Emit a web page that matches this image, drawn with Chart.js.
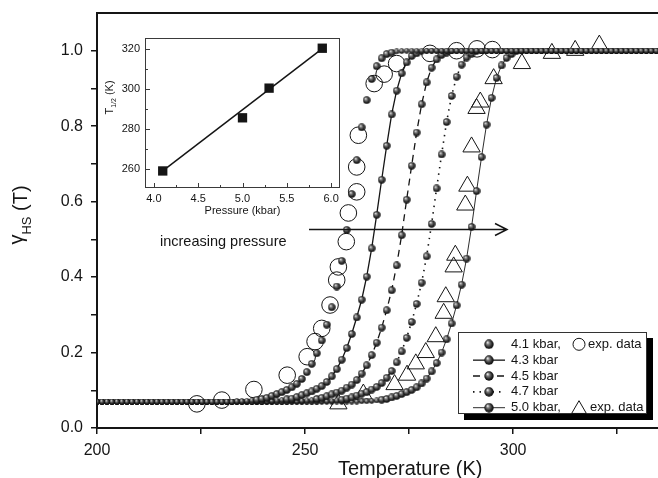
<!DOCTYPE html>
<html>
<head>
<meta charset="utf-8">
<script src="https://cdn.jsdelivr.net/npm/chart.js@4.4.1/dist/chart.umd.min.js"></script>
<style>
  html, body { margin: 0; padding: 0; background: #fff; }
  #wrap { position: relative; width: 658px; height: 478px; overflow: hidden; }
  #main { position: absolute; left: 0; top: 0; }
  #inset { position: absolute; left: 95px; top: 30px; }
</style>
</head>
<body>
<div id="wrap">
  <canvas id="main" width="658" height="478"></canvas>
  <canvas id="inset" width="250" height="190"></canvas>
</div>
<script>
// temperature grid of the simulated curves (K)
var temps = [
  200.0, 201.2, 202.4, 203.6, 204.8, 206.0, 207.2, 208.4, 209.6, 210.8,
  212.0, 213.2, 214.4, 215.6, 216.8, 218.0, 219.2, 220.4, 221.6, 222.8,
  224.0, 225.2, 226.4, 227.6, 228.8, 230.0, 231.2, 232.4, 233.6, 234.8,
  236.0, 237.2, 238.4, 239.6, 240.8, 242.0, 243.2, 244.4, 245.6, 246.8,
  248.0, 249.2, 250.4, 251.6, 252.8, 254.0, 255.2, 256.4, 257.6, 258.8,
  260.0, 261.2, 262.4, 263.6, 264.8, 266.0, 267.2, 268.4, 269.6, 270.8,
  272.0, 273.2, 274.4, 275.6, 276.8, 278.0, 279.2, 280.4, 281.6, 282.8,
  284.0, 285.2, 286.4, 287.6, 288.8, 290.0, 291.2, 292.4, 293.6, 294.8,
  296.0, 297.2, 298.4, 299.6, 300.8, 302.0, 303.2, 304.4, 305.6, 306.8,
  308.0, 309.2, 310.4, 311.6, 312.8, 314.0, 315.2, 316.4, 317.6, 318.8,
  320.0, 321.2, 322.4, 323.6, 324.8, 326.0, 327.2, 328.4, 329.6, 330.8,
  332.0, 333.2, 334.4
];

// gamma_HS of each simulated curve on that grid
var hs41 = [
  0.07, 0.07, 0.07, 0.07, 0.07, 0.07, 0.07, 0.07, 0.07, 0.07,
  0.07, 0.07, 0.07, 0.07, 0.07, 0.07, 0.07, 0.07, 0.07, 0.07,
  0.07, 0.07, 0.07, 0.07, 0.07, 0.07, 0.07, 0.07, 0.071, 0.071,
  0.072, 0.073, 0.075, 0.077, 0.080, 0.085, 0.090, 0.095, 0.101, 0.108,
  0.117, 0.130, 0.148, 0.170, 0.198, 0.232, 0.274, 0.320, 0.375, 0.443,
  0.525, 0.620, 0.710, 0.797, 0.869, 0.925, 0.959, 0.980, 0.991, 0.995,
  0.998, 0.999, 1, 1, 1, 1, 1, 1, 1, 1,
  1, 1, 1, 1, 1, 1, 1, 1, 1, 1,
  1, 1, 1, 1, 1, 1, 1, 1, 1, 1,
  1, 1, 1, 1, 1, 1, 1, 1, 1, 1,
  1, 1, 1, 1, 1, 1, 1, 1, 1, 1,
  1, 1, 1
];
var hs43 = [
  0.07, 0.07, 0.07, 0.07, 0.07, 0.07, 0.07, 0.07, 0.07, 0.07,
  0.07, 0.07, 0.07, 0.07, 0.07, 0.07, 0.07, 0.07, 0.07, 0.07,
  0.07, 0.07, 0.07, 0.07, 0.07, 0.07, 0.07, 0.07, 0.07, 0.07,
  0.07, 0.07, 0.07, 0.07, 0.071, 0.072, 0.073, 0.074, 0.076, 0.078,
  0.082, 0.087, 0.092, 0.097, 0.104, 0.111, 0.122, 0.137, 0.156, 0.181,
  0.212, 0.249, 0.293, 0.340, 0.401, 0.476, 0.565, 0.658, 0.748, 0.831,
  0.894, 0.940, 0.969, 0.986, 0.993, 0.997, 0.999, 1, 1, 1,
  1, 1, 1, 1, 1, 1, 1, 1, 1, 1,
  1, 1, 1, 1, 1, 1, 1, 1, 1, 1,
  1, 1, 1, 1, 1, 1, 1, 1, 1, 1,
  1, 1, 1, 1, 1, 1, 1, 1, 1, 1,
  1, 1, 1
];
var hs45 = [
  0.07, 0.07, 0.07, 0.07, 0.07, 0.07, 0.07, 0.07, 0.07, 0.07,
  0.07, 0.07, 0.07, 0.07, 0.07, 0.07, 0.07, 0.07, 0.07, 0.07,
  0.07, 0.07, 0.07, 0.07, 0.07, 0.07, 0.07, 0.07, 0.07, 0.07,
  0.07, 0.07, 0.07, 0.07, 0.07, 0.07, 0.07, 0.07, 0.07, 0.071,
  0.071, 0.072, 0.073, 0.074, 0.077, 0.080, 0.084, 0.089, 0.094, 0.099,
  0.107, 0.115, 0.127, 0.144, 0.166, 0.193, 0.226, 0.266, 0.312, 0.365,
  0.431, 0.511, 0.605, 0.695, 0.783, 0.858, 0.916, 0.955, 0.977, 0.989,
  0.995, 0.998, 0.999, 1, 1, 1, 1, 1, 1, 1,
  1, 1, 1, 1, 1, 1, 1, 1, 1, 1,
  1, 1, 1, 1, 1, 1, 1, 1, 1, 1,
  1, 1, 1, 1, 1, 1, 1, 1, 1, 1,
  1, 1, 1
];
var hs47 = [
  0.07, 0.07, 0.07, 0.07, 0.07, 0.07, 0.07, 0.07, 0.07, 0.07,
  0.07, 0.07, 0.07, 0.07, 0.07, 0.07, 0.07, 0.07, 0.07, 0.07,
  0.07, 0.07, 0.07, 0.07, 0.07, 0.07, 0.07, 0.07, 0.07, 0.07,
  0.07, 0.07, 0.07, 0.07, 0.07, 0.07, 0.07, 0.07, 0.07, 0.07,
  0.07, 0.07, 0.07, 0.07, 0.07, 0.071, 0.071, 0.072, 0.073, 0.075,
  0.078, 0.081, 0.086, 0.091, 0.095, 0.102, 0.109, 0.119, 0.133, 0.151,
  0.174, 0.203, 0.239, 0.281, 0.329, 0.385, 0.455, 0.541, 0.635, 0.725,
  0.811, 0.880, 0.931, 0.963, 0.982, 0.992, 0.996, 0.998, 0.999, 1,
  1, 1, 1, 1, 1, 1, 1, 1, 1, 1,
  1, 1, 1, 1, 1, 1, 1, 1, 1, 1,
  1, 1, 1, 1, 1, 1, 1, 1, 1, 1,
  1, 1, 1
];
var hs50 = [
  0.07, 0.07, 0.07, 0.07, 0.07, 0.07, 0.07, 0.07, 0.07, 0.07,
  0.07, 0.07, 0.07, 0.07, 0.07, 0.07, 0.07, 0.07, 0.07, 0.07,
  0.07, 0.07, 0.07, 0.07, 0.07, 0.07, 0.07, 0.07, 0.07, 0.07,
  0.07, 0.07, 0.07, 0.07, 0.07, 0.07, 0.07, 0.07, 0.07, 0.07,
  0.07, 0.07, 0.07, 0.07, 0.07, 0.07, 0.07, 0.07, 0.07, 0.07,
  0.07, 0.07, 0.07, 0.071, 0.071, 0.072, 0.073, 0.075, 0.077, 0.081,
  0.085, 0.090, 0.095, 0.101, 0.108, 0.118, 0.131, 0.150, 0.172, 0.200,
  0.235, 0.277, 0.325, 0.380, 0.449, 0.533, 0.628, 0.718, 0.804, 0.875,
  0.928, 0.961, 0.981, 0.991, 0.996, 0.998, 0.999, 1, 1, 1,
  1, 1, 1, 1, 1, 1, 1, 1, 1, 1,
  1, 1, 1, 1, 1, 1, 1, 1, 1, 1,
  1, 1, 1
];
var seriesNames = ['4.1 kbar,', '4.3 kbar', '4.5 kbar', '4.7 kbar', '5.0 kbar,'];

// experimental points, 4.1 kbar (circles) and 5.0 kbar (triangles)
var exp41T = [224.0, 230.0, 237.7, 245.7, 250.5, 252.4, 254.0, 256.0, 257.6, 258.0, 259.9,
              260.4, 262.4, 262.4, 262.8, 266.6, 269.0, 272.0, 280.0, 286.4, 291.3, 295.0];
var exp41Y = [0.064, 0.074, 0.102, 0.140, 0.189, 0.229, 0.264, 0.326, 0.392, 0.427, 0.494,
              0.570, 0.626, 0.692, 0.776, 0.913, 0.938, 0.966, 0.993, 1.000, 1.005, 1.003];
var exp50T = [258.0, 264.0, 271.5, 274.5, 276.6, 279.0, 281.4, 283.3, 283.8, 285.7, 286.1,
              288.5, 289.0, 290.0, 291.2, 292.1, 295.3, 302.1, 309.3, 314.9, 320.7];
var exp50Y = [0.064, 0.090, 0.115, 0.140, 0.170, 0.200, 0.242, 0.304, 0.348, 0.427, 0.458,
              0.591, 0.641, 0.745, 0.847, 0.864, 0.926, 0.966, 0.993, 1.001, 1.015];

// inset: T1/2 against pressure, with the linear fit
var pressures = [4.1, 5.0, 5.3, 5.9];
var halfTemps = [259.0, 285.5, 300.3, 320.2];
var fitP = [4.1, 5.9];
var fitT = [259.0, 320.0];

// ticks
var xTicks = [200, 225, 250, 275, 300, 325];
var xLabelled = [200, 250, 300];
var yTicks = [0, 0.1, 0.2, 0.3, 0.4, 0.5, 0.6, 0.7, 0.8, 0.9, 1.0];
var yLabelled = [0, 0.2, 0.4, 0.6, 0.8, 1.0];
var insetXTicks = [4.0, 4.5, 5.0, 5.5, 6.0];
var insetXMinor = [4.25, 4.75, 5.25, 5.75];
var insetYTicks = [260, 280, 300, 320];
var insetYMinor = [270, 290, 310];

var INK = '#151515';
var FONT = '"Liberation Sans", Arial, Helvetica, sans-serif';

function toPts(xs, ys) {
  return xs.map(function (x, i) { return { x: x, y: ys[i] }; });
}

// no extra room for edge labels: the plot area is placed by hand
function noPad(s) {
  s.paddingTop = 0; s.paddingBottom = 0; s.paddingLeft = 0; s.paddingRight = 0;
}

function makeSphere(d) {
  var c = document.createElement('canvas');
  c.width = d; c.height = d;
  var g = c.getContext('2d');
  var r = d / 2;
  var grad = g.createRadialGradient(r * 0.7, r * 0.6, r * 0.05, r, r, r);
  grad.addColorStop(0, '#f2f2f2');
  grad.addColorStop(0.3, '#7a7a7a');
  grad.addColorStop(0.7, '#262626');
  grad.addColorStop(1, '#050505');
  g.fillStyle = grad;
  g.beginPath();
  g.arc(r, r, r - 0.3, 0, Math.PI * 2);
  g.fill();
  return c;
}
var sphereBig = makeSphere(8);
var sphereSmall = makeSphere(6);
var sphereLegend = makeSphere(10);

function sphereStyle(ctx) {
  var v = ctx.raw ? ctx.raw.y : 0.5;
  return (v < 0.075 || v > 0.995) ? sphereSmall : sphereBig;
}

var seriesStyles = [
  { showLine: false },
  { showLine: true, borderWidth: 1.3 },
  { showLine: true, borderWidth: 1.3, borderDash: [7, 5] },
  { showLine: true, borderWidth: 1.6, borderDash: [1.5, 5] },
  { showLine: true, borderWidth: 0.9 }
];

var simData = [hs41, hs43, hs45, hs47, hs50];
var datasets = simData.map(function (vals, k) {
  return Object.assign({
    label: seriesNames[k],
    data: toPts(temps, vals),
    borderColor: INK,
    backgroundColor: INK,
    pointStyle: sphereStyle,
    pointRadius: 4,
    tension: 0,
    order: 1
  }, seriesStyles[k]);
});
datasets.push({
  label: 'exp. data 4.1 kbar',
  data: toPts(exp41T, exp41Y),
  pointStyle: 'circle', pointRadius: 8.3, borderWidth: 1,
  borderColor: INK, backgroundColor: 'rgba(0,0,0,0)', showLine: false, order: 2
});
datasets.push({
  label: 'exp. data 5.0 kbar',
  data: toPts(exp50T, exp50Y),
  pointStyle: 'triangle', pointRadius: 10, borderWidth: 1,
  borderColor: INK, backgroundColor: 'rgba(0,0,0,0)', showLine: false, order: 2
});

function triangle(ctx, cx, cy, r) {
  ctx.beginPath();
  for (var j = 0; j < 3; j++) {
    var a = j * 2 * Math.PI / 3;
    ctx.lineTo(cx + Math.sin(a) * r, cy - Math.cos(a) * r);
  }
  ctx.closePath();
  ctx.stroke();
}

var mainDecor = {
  id: 'mainDecor',
  beforeDraw: function (chart) {
    var ctx = chart.ctx;
    ctx.save();
    ctx.fillStyle = '#fff';
    ctx.fillRect(0, 0, chart.width, chart.height);
    ctx.restore();
  },
  afterDraw: function (chart) {
    var ctx = chart.ctx, a = chart.chartArea;
    ctx.save();
    // top frame line
    ctx.strokeStyle = INK;
    ctx.lineWidth = 2;
    ctx.beginPath();
    ctx.moveTo(a.left - 1, a.top);
    ctx.lineTo(a.right, a.top);
    ctx.stroke();

    // axis titles
    ctx.fillStyle = INK;
    ctx.textAlign = 'left';
    ctx.textBaseline = 'alphabetic';
    ctx.font = '20px ' + FONT;
    ctx.fillText('Temperature (K)', 338, 475);

    ctx.save();
    ctx.translate(27, 215);
    ctx.rotate(-Math.PI / 2);
    var parts = [
      { t: '\u03b3', f: '20px ' + FONT, dy: -4 },
      { t: 'HS', f: '13px ' + FONT, dy: 4 },
      { t: ' (T)', f: '20px ' + FONT, dy: 0 }
    ];
    var tw = 0;
    parts.forEach(function (p) { ctx.font = p.f; p.w = ctx.measureText(p.t).width; tw += p.w; });
    var px = -tw / 2;
    parts.forEach(function (p) { ctx.font = p.f; ctx.fillText(p.t, px, p.dy); px += p.w; });
    ctx.restore();

    // increasing pressure arrow
    ctx.lineWidth = 1.5;
    ctx.beginPath();
    ctx.moveTo(309, 229.5); ctx.lineTo(507, 229.5);
    ctx.moveTo(495, 223.5); ctx.lineTo(507, 229.5); ctx.lineTo(495, 235.5);
    ctx.stroke();
    ctx.font = '14.5px ' + FONT;
    ctx.fillText('increasing pressure', 160, 246);

    // legend with drop shadow
    var lx = 458, ly = 332, lw = 189, lh = 82;
    ctx.fillStyle = '#000';
    ctx.fillRect(lx + 6, ly + 6, lw, lh);
    ctx.fillStyle = '#fff';
    ctx.fillRect(lx, ly, lw, lh);
    ctx.lineWidth = 1;
    ctx.strokeStyle = '#333';
    ctx.strokeRect(lx + 0.5, ly + 0.5, lw - 1, lh - 1);
    ctx.font = '13px ' + FONT;
    ctx.textBaseline = 'middle';
    ctx.strokeStyle = INK;
    seriesNames.forEach(function (lab, k) {
      var ry = ly + 12.3 + k * 15.85;
      var st = seriesStyles[k];
      if (st.showLine) {
        ctx.save();
        ctx.lineWidth = st.borderWidth;
        ctx.setLineDash(st.borderDash || []);
        ctx.beginPath();
        ctx.moveTo(473, ry); ctx.lineTo(505, ry);
        ctx.stroke();
        ctx.restore();
      }
      ctx.drawImage(sphereLegend, 484, ry - 5);
      ctx.fillStyle = INK;
      ctx.fillText(lab, 511, ry);
    });
    var r0 = ly + 12.3, r4 = ly + 12.3 + 4 * 15.85;
    ctx.lineWidth = 1;
    ctx.beginPath(); ctx.arc(579, r0, 6, 0, Math.PI * 2); ctx.stroke();
    triangle(ctx, 579, r4 + 1.5, 8.5);
    ctx.fillText('exp. data', 588, r0);
    ctx.fillText('exp. data', 590, r4);
    ctx.restore();
  }
};

new Chart(document.getElementById('main'), {
  type: 'scatter',
  data: { datasets: datasets },
  options: {
    responsive: false,
    animation: false,
    events: [],
    layout: { autoPadding: false, padding: { top: 13, right: 0, bottom: 0, left: 0 } },
    plugins: { legend: { display: false }, tooltip: { enabled: false } },
    scales: {
      x: {
        type: 'linear', min: 200, max: 334.8,
        afterBuildTicks: function (s) { s.ticks = xTicks.map(function (v) { return { value: v }; }); },
        afterFit: function (s) { s.height = 50; noPad(s); },
        border: { display: true, color: INK, width: 2 },
        grid: { drawOnChartArea: false, drawTicks: true, tickLength: 6, color: INK, lineWidth: 1.5 },
        ticks: {
          color: INK, font: { family: FONT, size: 16 }, padding: 7,
          maxRotation: 0, autoSkip: false,
          callback: function (v) { return xLabelled.indexOf(v) >= 0 ? String(v) : ''; }
        }
      },
      y: {
        type: 'linear', min: 0, max: 1.1,
        afterBuildTicks: function (s) { s.ticks = yTicks.map(function (v) { return { value: v }; }); },
        afterFit: function (s) { s.width = 97; noPad(s); },
        border: { display: true, color: INK, width: 2 },
        grid: { drawOnChartArea: false, drawTicks: true, tickLength: 6, color: INK, lineWidth: 1.5 },
        ticks: {
          color: INK, font: { family: FONT, size: 16 }, padding: 8, autoSkip: false,
          callback: function (v) {
            return yLabelled.some(function (t) { return Math.abs(t - v) < 1e-6; }) ? v.toFixed(1) : '';
          }
        }
      }
    }
  },
  plugins: [mainDecor]
});

var insetDecor = {
  id: 'insetDecor',
  afterDraw: function (chart) {
    var ctx = chart.ctx, a = chart.chartArea, sx = chart.scales.x, sy = chart.scales.y;
    ctx.save();
    ctx.strokeStyle = '#3a3a3a';
    ctx.lineWidth = 1;
    ctx.strokeRect(a.left + 0.5, a.top + 0.5, a.right - a.left - 1, a.bottom - a.top - 1);
    ctx.beginPath();
    insetXTicks.concat(insetXMinor).forEach(function (v) {
      var len = insetXTicks.indexOf(v) >= 0 ? 5 : 3;
      var p = Math.round(sx.getPixelForValue(v)) + 0.5;
      ctx.moveTo(p, a.bottom); ctx.lineTo(p, a.bottom - len);
    });
    insetYTicks.concat(insetYMinor).forEach(function (v) {
      var len = insetYTicks.indexOf(v) >= 0 ? 5 : 3;
      var p = Math.round(sy.getPixelForValue(v)) + 0.5;
      ctx.moveTo(a.left, p); ctx.lineTo(a.left + len, p);
    });
    ctx.stroke();

    ctx.fillStyle = INK;
    ctx.font = '11px ' + FONT;
    ctx.textAlign = 'center';
    ctx.textBaseline = 'middle';
    ctx.fillText('Pressure (kbar)', (a.left + a.right) / 2, 181);

    ctx.save();
    ctx.translate(18, 67.5);
    ctx.rotate(-Math.PI / 2);
    ctx.textAlign = 'left';
    ctx.textBaseline = 'alphabetic';
    var parts = [
      { t: 'T', f: '11px ' + FONT, dy: 0 },
      { t: '1/2', f: '7px ' + FONT, dy: 3 },
      { t: ' (K)', f: '11px ' + FONT, dy: 0 }
    ];
    var tw = 0;
    parts.forEach(function (p) { ctx.font = p.f; p.w = ctx.measureText(p.t).width; tw += p.w; });
    var px = -tw / 2;
    parts.forEach(function (p) { ctx.font = p.f; ctx.fillText(p.t, px, p.dy); px += p.w; });
    ctx.restore();
    ctx.restore();
  }
};

new Chart(document.getElementById('inset'), {
  type: 'scatter',
  data: {
    datasets: [
      {
        label: 'T1/2',
        data: toPts(pressures, halfTemps),
        pointStyle: 'rect', pointRadius: 6.6, borderWidth: 0,
        backgroundColor: INK, borderColor: INK, showLine: false
      },
      {
        label: 'fit',
        data: toPts(fitP, fitT),
        showLine: true, pointRadius: 0, borderWidth: 1.5, borderColor: INK
      }
    ]
  },
  options: {
    responsive: false,
    animation: false,
    events: [],
    layout: { autoPadding: false, padding: { top: 8, right: 5, bottom: 0, left: 0 } },
    plugins: { legend: { display: false }, tooltip: { enabled: false } },
    scales: {
      x: {
        type: 'linear', min: 3.9, max: 6.1,
        afterBuildTicks: function (s) { s.ticks = insetXTicks.map(function (v) { return { value: v }; }); },
        afterFit: function (s) { s.height = 32; noPad(s); },
        border: { display: false },
        grid: { display: false, drawTicks: false },
        ticks: {
          color: INK, font: { family: FONT, size: 11 }, padding: 4, maxRotation: 0, autoSkip: false,
          callback: function (v) { return v.toFixed(1); }
        }
      },
      y: {
        type: 'linear', min: 250.5, max: 325.3,
        afterBuildTicks: function (s) { s.ticks = insetYTicks.map(function (v) { return { value: v }; }); },
        afterFit: function (s) { s.width = 50; noPad(s); },
        border: { display: false },
        grid: { display: false, drawTicks: false },
        ticks: {
          color: INK, font: { family: FONT, size: 11 }, padding: 5, autoSkip: false,
          callback: function (v) { return String(v); }
        }
      }
    }
  },
  plugins: [insetDecor]
});
</script>
</body>
</html>
